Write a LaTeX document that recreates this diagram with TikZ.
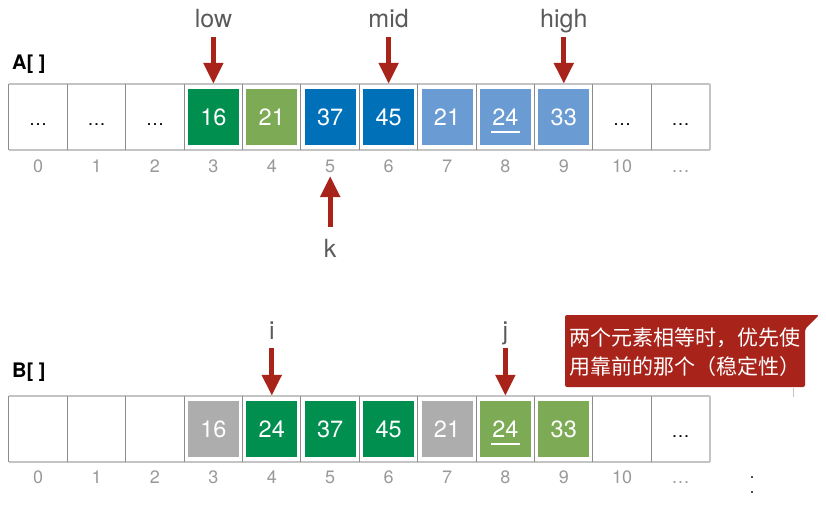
\documentclass[tikz,border=0pt]{standalone}
\usepackage{fontspec}
\setmainfont{TeX Gyre Heros}
\newfontfamily\cjk{Noto Sans CJK SC}
\usetikzlibrary{arrows.meta}
\definecolor{dg}{HTML}{008F4F}
\definecolor{lg}{HTML}{7DAB55}
\definecolor{db}{HTML}{0071B9}
\definecolor{lb}{HTML}{6A9BD2}
\definecolor{gy}{HTML}{ADADAD}
\definecolor{rd}{HTML}{A8231A}
\definecolor{lbl}{HTML}{5A5A5A}
\definecolor{idxc}{HTML}{999999}
\definecolor{hl}{HTML}{C4C4C4}
\definecolor{vl}{HTML}{8C8C8C}
\begin{document}
\begin{tikzpicture}[x=1pt,y=-1pt,
  cell/.style={rectangle, minimum width=58.4pt, minimum height=66pt, inner sep=0pt},
  valbox/.style={rectangle, minimum width=51pt, minimum height=56pt, inner sep=0pt, text=white, font=\fontsize{23.5}{23.5}\selectfont},
  dotsl/.style={anchor=base, inner sep=0pt, font=\fontsize{18}{18}\selectfont},
  idx/.style={anchor=base, inner sep=0pt, text=idxc, font=\fontsize{18}{18}\selectfont},
  ptr/.style={anchor=base, inner sep=0pt, text=lbl, font=\fontsize{25}{25}\selectfont},
  arrname/.style={anchor=base west, inner sep=0pt, font=\bfseries\fontsize{20}{20}\selectfont},
  ptrarrow/.style={draw=rd, line width=5pt, -{Triangle[width=19pt,length=21pt]}},
  hline/.style={draw=hl, line width=2pt},
  vline/.style={draw=vl, line width=1pt},
  uline/.style={draw=white, line width=1.3pt}
]
\useasboundingbox (0,0) rectangle (826,527);

% ---------- Array A ----------
\foreach \i in {0,...,11} {
  \node[cell] (a\i) at ({9+58.4*(\i+0.5)},117) {};
}
\draw[hline] (a0.north west) -- (a11.north east);
\draw[hline] (a0.south west) -- (a11.south east);
\foreach \i in {0,...,11} { \draw[vline] (a\i.north west) -- (a\i.south west); }
\draw[hline] (a11.north east) -- (a11.south east);

\foreach \i/\v/\c in {3/16/dg,4/21/lg,5/37/db,6/45/db,7/21/lb,8/24/lb,9/33/lb} {
  \node[valbox, fill=\c] (va\i) at (a\i.center) {\v};
}
\draw[uline] ([xshift=-14.5pt,yshift=-15pt]va8.center) -- ([xshift=14.5pt,yshift=-15pt]va8.center);
\foreach \i in {0,1,2,10,11} {
  \node[dotsl] (da\i) at ([yshift=-8pt]a\i.center) {…};
}
\foreach \i in {0,...,10} {
  \node[idx] (ia\i) at ({9+58.4*(\i+0.5)},172) {\i};
}
\node[idx] (ia11) at ({9+58.4*11.5},172) {…};

\node[arrname] (Alabel) at (12,69) {A[ ]};

\node[ptr] (low) at (a3.center |- 0,28) {low};
\node[ptr] (mid) at (a6.center |- 0,28) {mid};
\node[ptr] (high) at (a9.center |- 0,28) {high};
\node[ptr] (k) at (a5.center |- 0,257) {k};
\draw[ptrarrow] ([yshift=-9pt]low.base) -- (a3.north);
\draw[ptrarrow] ([yshift=-9pt]mid.base) -- (a6.north);
\draw[ptrarrow] ([yshift=-9pt]high.base) -- (a9.north);
\draw[ptrarrow] ([yshift=30pt]k.base) -- ([yshift=-4pt]ia5.base);

% ---------- Array B ----------
\foreach \i in {0,...,11} {
  \node[cell] (b\i) at ({9+58.4*(\i+0.5)},429) {};
}
\draw[hline] (b0.north west) -- (b11.north east);
\draw[hline] (b0.south west) -- (b11.south east);
\foreach \i in {0,...,11} { \draw[vline] (b\i.north west) -- (b\i.south west); }
\draw[hline] (b11.north east) -- (b11.south east);

\foreach \i/\v/\c in {3/16/gy,4/24/dg,5/37/dg,6/45/dg,7/21/gy,8/24/lg,9/33/lg} {
  \node[valbox, fill=\c] (vb\i) at (b\i.center) {\v};
}
\draw[uline] ([xshift=-14.5pt,yshift=-15pt]vb8.center) -- ([xshift=14.5pt,yshift=-15pt]vb8.center);
\node[dotsl] (db11) at ([yshift=-8pt]b11.center) {…};
\foreach \i in {0,...,10} {
  \node[idx] (ib\i) at ({9+58.4*(\i+0.5)},483) {\i};
}
\node[idx] (ib11) at ({9+58.4*11.5},483) {…};

\node[arrname] (Blabel) at (12,377) {B[ ]};

\node[ptr] (iptr) at (b4.center |- 0,339) {i};
\node[ptr] (jptr) at (b8.center |- 0,339) {j};
\draw[ptrarrow] ([yshift=-9pt]iptr.base) -- (b4.north);
\draw[ptrarrow] ([yshift=-9pt]jptr.base) -- (b8.north);

% ---------- Callout ----------
\fill[rd, rounded corners=2pt] (565,315) -- (819,315) -- (805,329) -- (805,387) -- (565,387) -- cycle;
\node[text=white, align=left, inner sep=0pt, anchor=west, font=\cjk\fontsize{21}{29}\selectfont] (note) at (569,352)
  {两个元素相等时，优先使\\用靠前的那个（稳定性）};
\draw[draw=hl, line width=0.8pt] (793,388) -- (793,397);
\fill[black!70] (751.3,476.3) rectangle ++(1.4,1.4);
\fill[black!70] (751.3,491.3) rectangle ++(1.4,1.4);
\end{tikzpicture}
\end{document}
